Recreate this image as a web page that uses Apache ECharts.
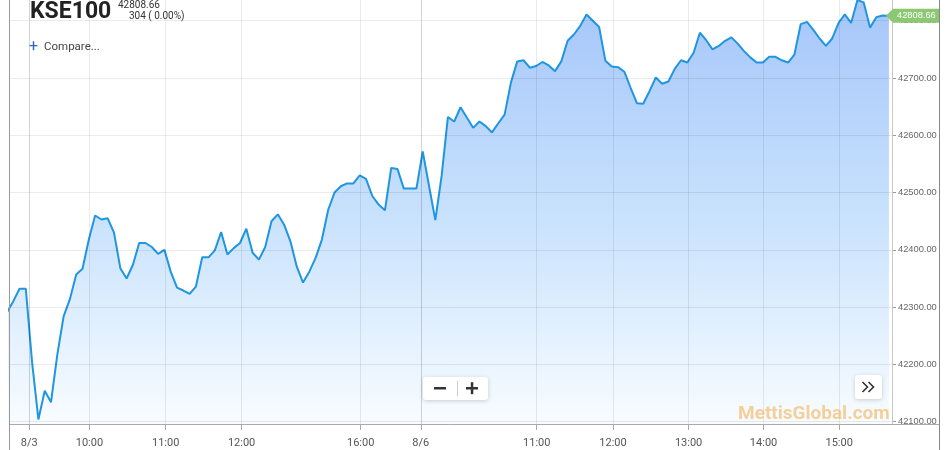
<!DOCTYPE html>
<html><head><meta charset="utf-8">
<script src="https://cdn.jsdelivr.net/npm/echarts@6/dist/echarts.min.js"></script>
<style>html,body{margin:0;padding:0;background:#fff}#c{width:950px;height:450px}</style>
</head><body><div id="c"></div>
<script>
// KSE100 intraday values, one point per 5-minute step (index on x)
const values = [
42291, 42310, 42332, 42332, 42203, 42104, 42154, 42134, 42217, 42284,
42314, 42357, 42367, 42418, 42460, 42453, 42455, 42430, 42368, 42350,
42374, 42412, 42412, 42405, 42393, 42400, 42362, 42334, 42329, 42323,
42336, 42387, 42387, 42399, 42431, 42392, 42403, 42412, 42437, 42395,
42383, 42405, 42450, 42462, 42444, 42415, 42371, 42343, 42362, 42386,
42418, 42470, 42500, 42511, 42516, 42516, 42530, 42524, 42494, 42479,
42469, 42543, 42541, 42507, 42507, 42507, 42572, 42512, 42452, 42529,
42632, 42624, 42649, 42631, 42613, 42624, 42616, 42605, 42621, 42636,
42692, 42729, 42731, 42718, 42721, 42728, 42722, 42712, 42729, 42765,
42776, 42791, 42811, 42800, 42789, 42730, 42720, 42719, 42711, 42683,
42656, 42655, 42677, 42701, 42690, 42694, 42716, 42731, 42727, 42744,
42779, 42766, 42750, 42756, 42765, 42771, 42760, 42747, 42736, 42727,
42727, 42737, 42737, 42731, 42727, 42741, 42794, 42798, 42784, 42769,
42756, 42769, 42796, 42811, 42796, 42836, 42832, 42788, 42806, 42809,
42808.66
];
const tickIndex = [3.55, 13.1, 25.2, 37.25, 56.15, 65.7, 84.1, 96.2, 108.2, 120.1, 132.1];
const tickLabels = ['8/3', '10:00', '11:00', '12:00', '16:00', '8/6', '11:00', '12:00', '13:00', '14:00', '15:00'];
const dayBreaks = ['8/3', '8/6'];
const yTicks = [42100, 42200, 42300, 42400, 42500, 42600, 42700, 42800];
const lastPrice = '42808.66';
const changeText = '304 ( 0.00%)';
const symbolName = 'KSE100';

const chart = echarts.init(document.getElementById('c'), null, {renderer: 'canvas'});

const gridLines = [];
yTicks.forEach(v => gridLines.push({yAxis: v, lineStyle: {color: 'rgba(0,0,0,0.08)', width: 1, type: 'solid'}}));
tickIndex.forEach((p, k) => gridLines.push({xAxis: p, lineStyle: {color: dayBreaks.includes(tickLabels[k]) ? 'rgba(0,0,0,0.17)' : 'rgba(0,0,0,0.08)', width: 1, type: 'solid'}}));

chart.setOption({
  animation: false,
  grid: {left: 9.5, right: 58, top: 0, bottom: 26},
  xAxis: {
    type: 'value', min: 0.41, max: 140.49,
    splitLine: {show: false},
    axisLine: {show: true, lineStyle: {color: '#aaa'}},
    axisTick: {show: true, length: 6, lineStyle: {color: '#aaa'}, customValues: tickIndex},
    axisLabel: {
      customValues: tickIndex, margin: 14, color: '#555', fontSize: 11, fontFamily: 'Roboto',
      formatter: v => { const k = tickIndex.findIndex(t => Math.abs(t - v) < 1e-6); return k >= 0 ? tickLabels[k] : ''; }
    }
  },
  yAxis: {
    type: 'value', position: 'right', min: 42096, max: 42836.2, scale: true,
    splitLine: {show: false},
    axisLine: {show: false},
    axisTick: {show: true, length: 4, lineStyle: {color: '#999'}, customValues: yTicks},
    axisLabel: {customValues: yTicks, margin: 6, color: '#666', fontSize: 9.3, fontFamily: 'Liberation Sans', formatter: v => v.toFixed(2)}
  },
  series: [{
    type: 'line',
    data: values.map((v, i) => [i, v]),
    symbol: 'none',
    lineStyle: {color: '#1f96df', width: 2},
    areaStyle: {origin: 'start', color: new echarts.graphic.LinearGradient(0, 0, 0, 1, [
      {offset: 0, color: '#7fadf7'}, {offset: 0.5, color: '#afd4fb'}, {offset: 1, color: '#f4faff'}])},
    markLine: {silent: true, symbol: 'none', label: {show: false}, animation: false, data: gridLines},
    z: 2
  }]
});

const lastY = chart.convertToPixel({xAxisIndex: 0, yAxisIndex: 0}, [values.length - 1, values[values.length - 1]])[1];

chart.setOption({
  graphic: [
    {type: 'line', shape: {x1: 9.5, y1: 0, x2: 9.5, y2: 450}, style: {stroke: '#999', lineWidth: 1}, z: 10},
    {type: 'line', shape: {x1: 892.5, y1: 0, x2: 892.5, y2: 424}, style: {stroke: '#c8c8c8', lineWidth: 1}, z: 10},
    {type: 'line', shape: {x1: 939.5, y1: 0, x2: 939.5, y2: 450}, style: {stroke: '#888', lineWidth: 1}, z: 10},
    {type: 'line', shape: {x1: 892, y1: 424.5, x2: 939, y2: 424.5}, style: {stroke: '#aaa', lineWidth: 1}, z: 10},
    {type: 'text', left: 30, top: 1, style: {text: symbolName, font: 'bold 23px Roboto', fill: '#222'}, z: 20},
    {type: 'text', left: 118, top: 0, style: {text: lastPrice, font: '10px Roboto', fill: '#333'}, z: 20},
    {type: 'text', left: 129, top: 11, style: {text: changeText, font: '10px Roboto', fill: '#333'}, z: 20},
    {type: 'text', left: 29, top: 39, style: {text: '+', font: '16px Roboto', fill: '#2a66c4'}, z: 20},
    {type: 'text', left: 44, top: 41, style: {text: 'Compare...', font: '11.5px Roboto', fill: '#444'}, z: 20},
    {type: 'rect', shape: {x: 423, y: 377, width: 65, height: 23, r: 3}, style: {fill: '#fff', shadowBlur: 4, shadowColor: 'rgba(0,0,0,0.18)', shadowOffsetY: 1}, z: 20},
    {type: 'line', shape: {x1: 457.5, y1: 381, x2: 457.5, y2: 396}, style: {stroke: '#ccc', lineWidth: 1}, z: 21},
    {type: 'rect', shape: {x: 434, y: 387, width: 12, height: 2.5}, style: {fill: '#333'}, z: 21},
    {type: 'rect', shape: {x: 466, y: 387, width: 12, height: 2.5}, style: {fill: '#333'}, z: 21},
    {type: 'rect', shape: {x: 470.8, y: 382.2, width: 2.5, height: 12}, style: {fill: '#333'}, z: 21},
    {type: 'rect', shape: {x: 855, y: 375, width: 27, height: 24, r: 3}, style: {fill: '#fff', shadowBlur: 4, shadowColor: 'rgba(0,0,0,0.18)', shadowOffsetY: 1}, z: 20},
    {type: 'polyline', shape: {points: [[862.5, 382], [867.5, 387], [862.5, 392]]}, style: {stroke: '#333', lineWidth: 1.6, fill: null}, z: 21},
    {type: 'polyline', shape: {points: [[868.5, 382], [873.5, 387], [868.5, 392]]}, style: {stroke: '#333', lineWidth: 1.6, fill: null}, z: 21},
    {type: 'text', left: 738, top: 405, style: {text: 'MettisGlobal.com', font: 'bold 19px Roboto', fill: 'rgba(242,178,85,0.6)'}, z: 20},
    {type: 'polygon', shape: {points: [[886, lastY], [893, lastY - 7], [939, lastY - 7], [939, lastY + 7], [893, lastY + 7]]}, style: {fill: '#8cc873'}, z: 30},
    {type: 'text', x: 897, y: lastY, style: {text: lastPrice, font: '9.3px Liberation Sans', fill: '#fff', verticalAlign: 'middle'}, z: 31}
  ]
});
</script></body></html>
